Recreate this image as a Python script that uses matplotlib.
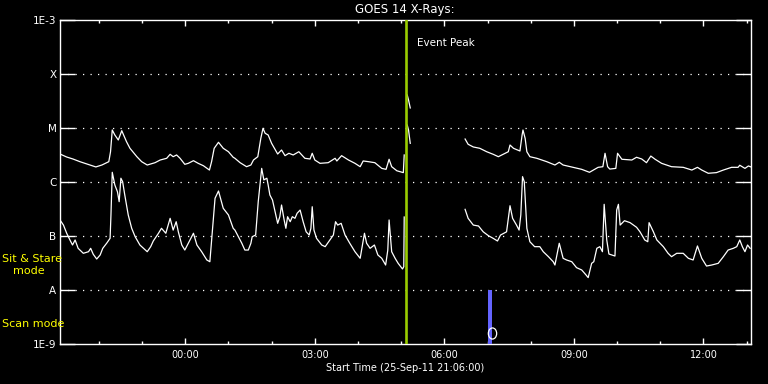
"""GOES 14 X-ray flux plot (IDL-style, black background)."""
import numpy as np
import matplotlib
matplotlib.use('Agg')
import matplotlib.pyplot as plt
from matplotlib.path import Path
from matplotlib.transforms import Affine2D

# ---- data: hours after 25-Sep-11 21:06, flux in W/m^2 (nan = data gap) ----
LONG_T = [0.00, 0.155, 0.30, 0.46, 0.62, 0.83, 0.97, 1.13, 1.17, 1.21,
          1.27, 1.35, 1.43, 1.54, 1.62, 1.78, 1.89, 2.02, 2.20, 2.32,
          2.47, 2.55, 2.62, 2.70, 2.78, 2.89, 2.97, 3.09, 3.20, 3.32,
          3.46, 3.51, 3.57, 3.67, 3.78, 3.90, 4.01, 4.05, 4.17, 4.32,
          4.42, 4.48, 4.58, 4.65, 4.70, 4.75, 4.82, 4.90, 5.04, 5.13,
          5.21, 5.30, 5.40, 5.53, 5.67, 5.79, 5.84, 5.90, 6.02, 6.21,
          6.37, 6.41, 6.52, 6.68, 6.83, 6.95, 7.02, 7.14, 7.29, 7.45,
          7.55, 7.62, 7.68, 7.80, 7.95, 7.97, np.nan,
          8.04, 8.07, 8.11, np.nan,
          9.38, 9.45, 9.57, 9.72, 9.88, 10.03, 10.15, 10.26, 10.38, 10.42,
          10.50, 10.65, 10.70, 10.72, 10.77, 10.81, 10.88, 11.04, 11.27, 11.46,
          11.56, 11.65, 11.88, 12.08, 12.26, 12.35, 12.46, 12.57, 12.62, 12.68,
          12.73, 12.87, 12.91, 13.01, 13.24, 13.35, 13.47, 13.58, 13.68, 13.78,
          13.93, 14.16, 14.43, 14.63, 14.76, 14.86, 15.01, 15.20, 15.36, 15.55,
          15.70, 15.74, 15.86, 15.94, 16.00]
LONG_FLUX = [3.23e-6, 2.84e-6, 2.61e-6, 2.33e-6, 2.11e-6, 1.86e-6, 2.02e-6, 2.33e-6, 3.56e-6, 9.0e-6,
             7.26e-6, 5.87e-6, 8.73e-6, 5.46e-6, 4.12e-6, 2.88e-6, 2.33e-6, 2.02e-6, 2.23e-6, 2.50e-6,
             2.69e-6, 3.19e-6, 2.88e-6, 3.10e-6, 2.69e-6, 2.08e-6, 2.17e-6, 2.43e-6, 2.17e-6, 1.96e-6,
             1.63e-6, 2.33e-6, 4.12e-6, 5.32e-6, 4.12e-6, 3.56e-6, 2.81e-6, 2.69e-6, 2.23e-6, 1.88e-6,
             2.02e-6, 2.50e-6, 2.88e-6, 6.31e-6, 9.66e-6, 7.82e-6, 7.26e-6, 5.09e-6, 3.23e-6, 3.83e-6,
             3.01e-6, 3.33e-6, 3.10e-6, 3.56e-6, 2.69e-6, 2.61e-6, 3.33e-6, 2.50e-6, 2.17e-6, 2.23e-6,
             2.69e-6, 2.40e-6, 3.01e-6, 2.50e-6, 2.17e-6, 1.88e-6, 2.40e-6, 2.33e-6, 2.23e-6, 1.75e-6,
             1.68e-6, 2.58e-6, 1.88e-6, 1.58e-6, 1.46e-6, 3.10e-6, np.nan,
             4.0e-5, 3.23e-5, 2.30e-5, np.nan,
             6.12e-6, 4.89e-6, 4.36e-6, 4.12e-6, 3.56e-6, 3.19e-6, 2.88e-6, 3.19e-6, 3.56e-6, 4.74e-6,
             4.12e-6, 3.67e-6, 7.26e-6, 9.0e-6, 6.31e-6, 3.56e-6, 2.88e-6, 2.69e-6, 2.33e-6, 2.02e-6,
             2.27e-6, 2.02e-6, 1.83e-6, 1.68e-6, 1.48e-6, 1.63e-6, 1.83e-6, 1.88e-6, 3.33e-6, 1.88e-6,
             1.70e-6, 1.75e-6, 3.33e-6, 2.58e-6, 2.50e-6, 2.81e-6, 2.61e-6, 2.23e-6, 2.96e-6, 2.58e-6,
             2.17e-6, 1.88e-6, 1.83e-6, 1.63e-6, 1.83e-6, 1.63e-6, 1.42e-6, 1.46e-6, 1.63e-6, 1.83e-6,
             1.83e-6, 2.0e-6, 1.75e-6, 1.94e-6, 1.86e-6]

SHORT_T = [0.00, 0.08, 0.155, 0.23, 0.29, 0.35, 0.42, 0.54, 0.66, 0.71,
           0.77, 0.85, 0.93, 0.99, 1.08, 1.16, 1.18, 1.21, 1.27, 1.33,
           1.37, 1.41, 1.45, 1.50, 1.58, 1.66, 1.74, 1.85, 2.02, 2.10,
           2.16, 2.28, 2.35, 2.45, 2.55, 2.62, 2.69, 2.74, 2.82, 2.89,
           3.01, 3.09, 3.17, 3.28, 3.40, 3.47, 3.54, 3.59, 3.67, 3.78,
           3.90, 4.01, 4.05, 4.13, 4.21, 4.28, 4.36, 4.42, 4.45, 4.53,
           4.59, 4.67, 4.72, 4.79, 4.82, 4.86, 4.92, 4.98, 5.04, 5.09,
           5.13, 5.19, 5.23, 5.27, 5.33, 5.38, 5.44, 5.49, 5.56, 5.63,
           5.70, 5.77, 5.81, 5.84, 5.88, 5.94, 6.06, 6.14, 6.25, 6.33,
           6.38, 6.43, 6.51, 6.60, 6.71, 6.83, 6.95, 7.05, 7.10, 7.18,
           7.28, 7.36, 7.45, 7.54, 7.59, 7.62, 7.68, 7.76, 7.83, 7.93,
           7.96, 7.97, np.nan,
           8.04, 8.07, 8.11, np.nan,
           9.38, 9.45, 9.57, 9.69, 9.80, 9.92, 10.03, 10.13, 10.20, 10.34,
           10.42, 10.48, 10.57, 10.63, 10.67, 10.71, 10.75, 10.81, 10.88, 10.99,
           11.11, 11.19, 11.31, 11.42, 11.46, 11.56, 11.65, 11.73, 11.85, 11.96,
           12.08, 12.18, 12.23, 12.31, 12.36, 12.43, 12.50, 12.56, 12.60, 12.66,
           12.71, 12.85, 12.89, 12.93, 12.97, 13.07, 13.20, 13.35, 13.43, 13.54,
           13.61, 13.64, 13.74, 13.82, 13.97, 14.08, 14.16, 14.28, 14.43, 14.55,
           14.66, 14.76, 14.86, 14.97, 15.09, 15.24, 15.36, 15.47, 15.59, 15.67,
           15.74, 15.80, 15.86, 15.92, 15.98]
SHORT_FLUX = [1.94e-7, 1.56e-7, 1.10e-7, 8.26e-8, 6.67e-8, 8.26e-8, 5.79e-8, 4.68e-8, 5.01e-8, 5.79e-8,
              4.49e-8, 3.67e-8, 4.36e-8, 5.79e-8, 7.18e-8, 8.87e-8, 2.40e-7, 1.48e-6, 8.61e-7, 6.47e-7,
              4.23e-7, 1.15e-6, 9.91e-7, 5.62e-7, 2.40e-7, 1.36e-7, 9.5e-8, 6.67e-8, 5.01e-8, 6.21e-8,
              7.91e-8, 1.10e-7, 1.36e-7, 1.10e-7, 2.08e-7, 1.26e-7, 1.80e-7, 1.17e-7, 6.67e-8, 5.38e-8,
              8.26e-8, 1.10e-7, 6.67e-8, 5.01e-8, 3.52e-8, 3.27e-8, 1.56e-7, 4.89e-7, 6.67e-7, 3.19e-7,
              2.40e-7, 1.36e-7, 1.26e-7, 9.5e-8, 7.18e-8, 5.38e-8, 5.38e-8, 7.18e-8, 9.5e-8, 1.02e-7,
              4.23e-7, 1.75e-6, 1.07e-6, 1.15e-6, 8.61e-7, 5.62e-7, 4.54e-7, 2.76e-7, 1.68e-7, 2.23e-7,
              3.67e-7, 1.94e-7, 1.36e-7, 2.23e-7, 1.80e-7, 2.23e-7, 2.08e-7, 2.58e-7, 2.96e-7, 1.80e-7,
              1.17e-7, 1.02e-7, 1.36e-7, 3.41e-7, 1.26e-7, 8.87e-8, 6.67e-8, 6.21e-8, 8.26e-8, 1.02e-7,
              1.80e-7, 1.56e-7, 1.68e-7, 1.02e-7, 7.18e-8, 5.01e-8, 3.78e-8, 1.10e-7, 7.18e-8, 5.79e-8,
              6.67e-8, 4.36e-8, 3.78e-8, 2.84e-8, 5.38e-8, 1.94e-7, 5.01e-8, 3.78e-8, 3.05e-8, 2.40e-8,
              2.64e-8, 2.20e-7, np.nan,
              1.11e-5, 9.0e-6, 5.09e-6, np.nan,
              3.05e-7, 2.08e-7, 1.56e-7, 1.50e-7, 1.17e-7, 9.91e-8, 8.87e-8, 7.91e-8, 1.02e-7, 1.17e-7,
              3.56e-7, 2.08e-7, 1.56e-7, 1.26e-7, 2.40e-7, 1.23e-6, 9.91e-7, 1.36e-7, 7.67e-8, 6.21e-8,
              6.21e-8, 5.01e-8, 4.05e-8, 3.27e-8, 2.84e-8, 7.18e-8, 3.78e-8, 3.52e-8, 3.27e-8, 2.54e-8,
              2.30e-8, 1.86e-8, 1.66e-8, 3.05e-8, 3.27e-8, 5.79e-8, 6.21e-8, 5.01e-8, 3.78e-7, 8.26e-8,
              4.54e-8, 4.17e-8, 2.96e-7, 3.78e-7, 1.56e-7, 1.88e-7, 1.73e-7, 1.42e-7, 1.17e-7, 8.26e-8,
              7.67e-8, 1.73e-7, 1.17e-7, 8.26e-8, 6.21e-8, 4.68e-8, 4.05e-8, 4.68e-8, 4.68e-8, 3.78e-8,
              3.52e-8, 6.40e-8, 3.78e-8, 2.72e-8, 2.84e-8, 3.05e-8, 4.05e-8, 5.38e-8, 5.79e-8, 6.21e-8,
              8.26e-8, 6.21e-8, 5.01e-8, 6.67e-8, 5.79e-8]

EVENT_T = 8.0                 # Event Peak
SCAN_T = [9.96]               # scan-mode bar (A level down to axis floor)
SCAN_W = 0.09
SCAN_FLUX = [1e-8]
MARK_T = [10.01]
MARK_FLUX = [1.58e-9]

Y_LEVELS = [1e-9, 1e-8, 1e-7, 1e-6, 1e-5, 1e-4, 1e-3]
Y_LABELS = ['1E-9', 'A', 'B', 'C', 'M', 'X', '1E-3']
X_MAJOR = [2.9, 5.9, 8.9, 11.9, 14.9]
X_LABELS = ['00:00', '03:00', '06:00', '09:00', '12:00']
X_MINOR = [0.9 + i for i in range(16)]

FG = 'white'
W, H = 768, 384


def main():
    fig = plt.figure(figsize=(W / 100, H / 100), dpi=100, facecolor='black')
    ax = fig.add_axes([60 / W, 40.5 / H, 691 / W, 324 / H], facecolor='black')

    ax.set_yscale('log')
    ax.set_ylim(1e-9, 1e-3)
    ax.set_xlim(0, 16)

    ax.plot(LONG_T, LONG_FLUX, color=FG, lw=0.9)
    ax.plot(SHORT_T, SHORT_FLUX, color=FG, lw=0.9)

    ax.axvline(EVENT_T, color='#99cc00', lw=1.9, zorder=5)
    ax.bar(SCAN_T, [f - 1e-9 for f in SCAN_FLUX], bottom=1e-9, width=SCAN_W,
           color='#6464ff', zorder=4)
    ell = Path.unit_circle().transformed(Affine2D().scale(0.75, 1.0))
    ax.plot(MARK_T, MARK_FLUX, ls='none', marker=ell, ms=8, mfc='none',
            mec=FG, mew=0.9, zorder=6)

    # axes / ticks
    for sp in ax.spines.values():
        sp.set_color(FG)
        sp.set_linewidth(1)
    ax.set_yticks(Y_LEVELS)
    ax.set_yticklabels(Y_LABELS)
    ax.yaxis.set_minor_locator(matplotlib.ticker.NullLocator())
    ax.set_xticks(X_MAJOR)
    ax.set_xticklabels(X_LABELS)
    ax.set_xticks(X_MINOR, minor=True)
    ax.tick_params(axis='y', which='major', direction='in', length=10.8, width=1,
                   color=FG, labelcolor=FG, labelsize=7.5, left=True, right=True, pad=2.5)
    ax.tick_params(axis='x', which='major', direction='in', length=4.3, width=1,
                   color=FG, labelcolor=FG, labelsize=7, top=True, bottom=True, pad=5)
    ax.tick_params(axis='x', which='minor', direction='in', length=2.5, width=1,
                   color=FG, top=True, bottom=True)
    for lv in Y_LEVELS[1:-1]:
        ax.axhline(lv, color=FG, lw=0.9, ls=(0, (1, 5)), zorder=1)

    # texts
    fig.text(405 / W, 1 - 10 / H, 'GOES 14 X-Rays:', color=FG, fontsize=8.5,
             ha='center', va='center')
    fig.text(405 / W, 1 - 368 / H, 'Start Time (25-Sep-11 21:06:00)', color=FG,
             fontsize=7, ha='center', va='center')
    fig.text(417 / W, 1 - 43 / H, 'Event Peak', color=FG, fontsize=7.5,
             ha='left', va='center')
    fig.text(2 / W, 1 - 259 / H, 'Sit & Stare', color='yellow', fontsize=8,
             ha='left', va='center')
    fig.text(13 / W, 1 - 271 / H, 'mode', color='yellow', fontsize=8,
             ha='left', va='center')
    fig.text(2 / W, 1 - 324 / H, 'Scan mode', color='yellow', fontsize=8,
             ha='left', va='center')

    fig.savefig('out.png', dpi=100, facecolor='black')


if __name__ == '__main__':
    main()
